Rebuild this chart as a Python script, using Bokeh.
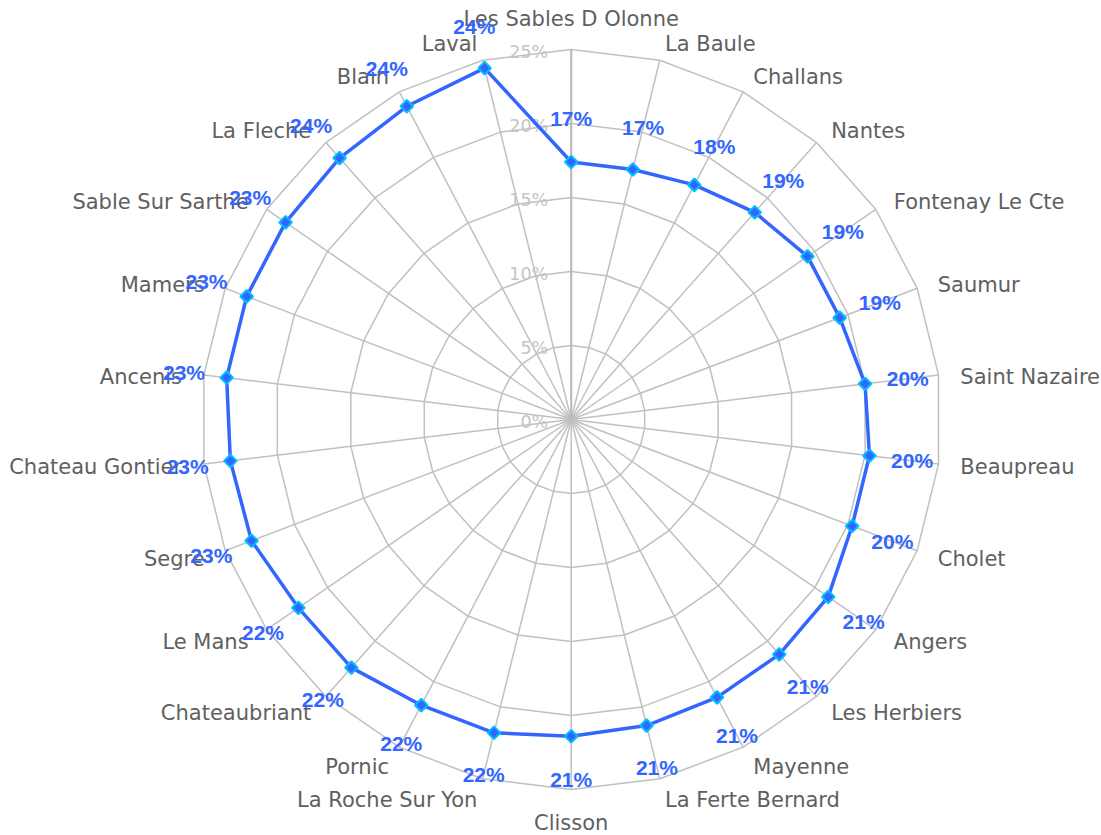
import math
from bokeh.plotting import figure
from bokeh.models import Range1d, ColumnDataSource
from bokeh.core.properties import value
from bokeh.embed import file_html
from bokeh.resources import INLINE

categories = ["Les Sables D Olonne", "La Baule", "Challans", "Nantes", "Fontenay Le Cte",
              "Saumur", "Saint Nazaire", "Beaupreau", "Cholet", "Angers", "Les Herbiers",
              "Mayenne", "La Ferte Bernard", "Clisson", "La Roche Sur Yon", "Pornic",
              "Chateaubriant", "Le Mans", "Segre", "Chateau Gontier", "Ancenis", "Mamers",
              "Sable Sur Sarthe", "La Fleche", "Blain", "Laval"]
values = [17.4, 17.4, 17.9, 18.7, 19.4, 19.4, 20.0, 20.3, 20.3, 21.1, 21.2, 21.2, 21.3,
          21.4, 21.8, 21.8, 22.4, 22.4, 23.1, 23.2, 23.45, 23.45, 23.45, 23.6, 23.9, 24.45]
ticks = [0, 5, 10, 15, 20, 25]
tick_labels = ["0%", "5%", "10%", "15%", "20%", "25%"]

SCALE = 14.8  # px per percent
RMAX = 25
N = len(categories)
angles = [2 * math.pi * i / N for i in range(N)]

W, H = 1101, 835
cx, cy = 570.7, 419.0
p = figure(width=W, height=H, output_backend="svg", toolbar_location=None,
           x_range=Range1d(-cx, W - cx), y_range=Range1d(cy - H, cy),
           x_axis_type=None, y_axis_type=None, min_border=0)
p.outline_line_color = None
p.grid.visible = False
p.background_fill_color = "white"

def pt(r, a):
    return r * SCALE * math.sin(a), r * SCALE * math.cos(a)

grid_col = "#c0c0c0"
# rings
rx, ry = [], []
for t in ticks[1:]:
    xs = [pt(t, a)[0] for a in angles] + [pt(t, angles[0])[0]]
    ys = [pt(t, a)[1] for a in angles] + [pt(t, angles[0])[1]]
    rx.append(xs); ry.append(ys)
p.multi_line(rx, ry, line_color=grid_col, line_width=1.5)
# spokes
sx = [[0, pt(RMAX, a)[0]] for a in angles[1:]]
sy = [[0, pt(RMAX, a)[1]] for a in angles[1:]]
p.multi_line(sx, sy, line_color=grid_col, line_width=1.5)
p.line([0, 0], [0, RMAX * SCALE], line_color="#bbbbbb", line_width=2.2)

# tick labels
p.text(x=[-23] * len(ticks), y=[t * SCALE - 2 for t in ticks], text=tick_labels,
       text_align="right", text_baseline="middle", text_color="#c4c4c4",
       text_font=value("DejaVu Sans"), text_font_size="17.5px")

# category labels
lx, ly, la, lb, lt = [], [], [], [], []
for c, a in zip(categories, angles):
    x, y = pt(392 / SCALE, a)
    s = math.sin(a)
    co = math.cos(a)
    if abs(s) < 0.01:
        align = "center"
        base = "bottom" if co > 0 else "top"
        y += -3 if co > 0 else 1
    else:
        align = "left" if s > 0 else "right"
        base = "middle"
        if co > 0:
            y -= 5
    lx.append(x); ly.append(y); la.append(align); lb.append(base); lt.append(c)
src = ColumnDataSource(dict(x=lx, y=ly, align=la, base=lb, text=lt))
p.text(x="x", y="y", text="text", text_align="align", text_baseline="base", source=src,
       text_color="#606060", text_font=value("DejaVu Sans"), text_font_size="21px")

# series
px = [pt(v, a)[0] for v, a in zip(values, angles)]
py = [pt(v, a)[1] for v, a in zip(values, angles)]
p.line(px + [px[0]], py + [py[0]], line_color="#3366ff", line_width=3.5)
p.scatter(px, py, marker="square", angle=math.pi / 4, size=9, fill_color="#3366ff",
          line_color="#00bfff", line_width=2)

# value labels
vx = [pt(v + 43 / SCALE, a)[0] for v, a in zip(values, angles)]
vy = [pt(v + 43 / SCALE, a)[1] for v, a in zip(values, angles)]
vt = [f"{round(v)}%" for v in values]
p.text(x=vx, y=vy, text=vt, text_align="center", text_baseline="middle",
       text_color="#3366ff", text_font=value("Liberation Sans"), text_font_size="21px",
       text_font_style="bold")

open("out.html", "w").write(file_html(p, INLINE))
